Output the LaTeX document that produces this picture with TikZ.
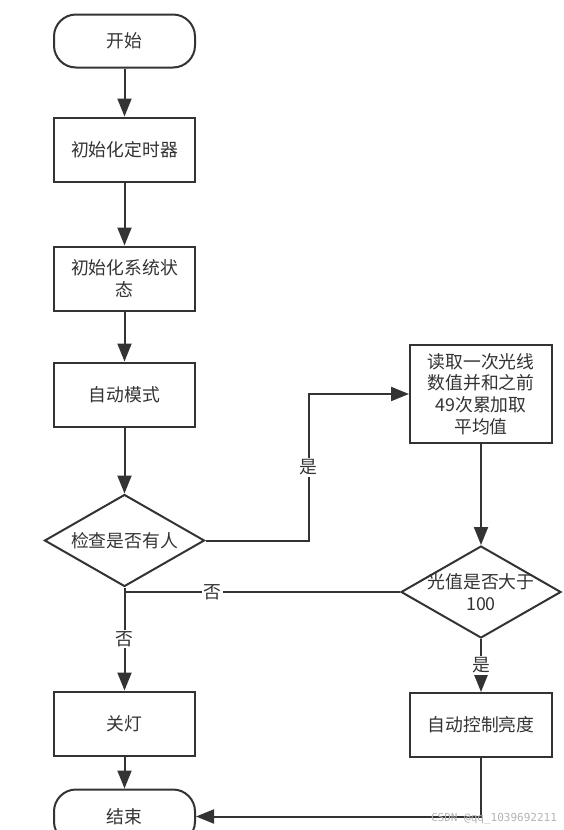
\documentclass[tikz,border=0pt]{standalone}
\usepackage{fontspec}
\usepackage{tikz}
\usetikzlibrary{arrows.meta, positioning, shapes.geometric}
\setmainfont{Noto Sans CJK SC}
\newfontfamily\wmfont{DejaVu Sans Mono}
\definecolor{ink}{HTML}{333333}
\definecolor{wmgray}{HTML}{B4B4B4}

\begin{document}
\begin{tikzpicture}[
  x=1pt, y=1pt,
  every node/.style={font=\fontsize{17.8}{21.7}\selectfont, text=ink},
  procbox/.style={draw=ink, line width=2pt, fill=white,
              minimum width=141pt, minimum height=64pt,
              inner sep=2pt, align=center},
  termbox/.style={procbox, rounded corners=22pt, minimum height=53pt},
  decbox/.style={diamond, draw=ink, line width=2pt, fill=white,
              minimum width=160pt, minimum height=92pt, inner sep=0pt},
  arr/.style={-{Triangle[length=18pt, width=14pt]}, line width=2pt, draw=ink},
  link/.style={line width=2pt, draw=ink},
  lbl/.style={fill=white, inner sep=1.5pt}
]
  \useasboundingbox (0,0) rectangle (563,-830);
  \clip (0,0) rectangle (563,-830);

  % Main column
  \node[termbox] (start) at (124.5,-41) {开始};
  \node[procbox, below=48pt of start] (inittimer) {初始化定时器};
  \node[procbox, below=63pt of inittimer] (initstate) {初始化系统状\\态};
  \node[procbox, below=50pt of initstate] (automode) {自动模式};
  \node[decbox, below=66pt of automode,
        label={[align=center]center:检查是否有人}] (check) {};
  \node[procbox, below=103pt of check] (lightoff) {关灯};
  \node[termbox, below=32pt of lightoff, minimum height=54pt] (stop) {结束};

  % Light branch
  \node[procbox, minimum width=142pt, minimum height=98pt] (readlight) at (481,-394)
    {读取一次光线\\数值并和之前\\49次累加取\\平均值};
  \node[decbox, below=101pt of readlight,
        label={[align=center]center:{光值是否大于\\100}}] (compare) {};
  \node[procbox, minimum width=142pt, below=53pt of compare] (autoctrl) {自动控制亮度};

  \draw[arr] (start) -- (inittimer);
  \draw[arr] (inittimer) -- (initstate);
  \draw[arr] (initstate) -- (automode);
  \draw[arr] (automode) -- (check);
  \draw[arr] (check.east) -- ++(103,0) |- node[lbl, pos=0.25] {是} (readlight.west);
  \draw[arr] (readlight) -- (compare);
  \draw[link] (compare.west) -- node[lbl, pos=0.68] {否} (compare.west -| check.south);
  \draw[arr] (check.south) -- node[lbl] {否} (lightoff);
  \draw[arr] (compare) -- node[lbl] {是} (autoctrl);
  \draw[arr] (lightoff) -- (stop);
  \draw[arr] (autoctrl.south) |- (stop.east);

  \node[font=\wmfont\fontsize{11}{13}\selectfont, text=wmgray] (csdn) at (494,-819)
    {CSDN @qq\_1039692211};
\end{tikzpicture}
\end{document}
